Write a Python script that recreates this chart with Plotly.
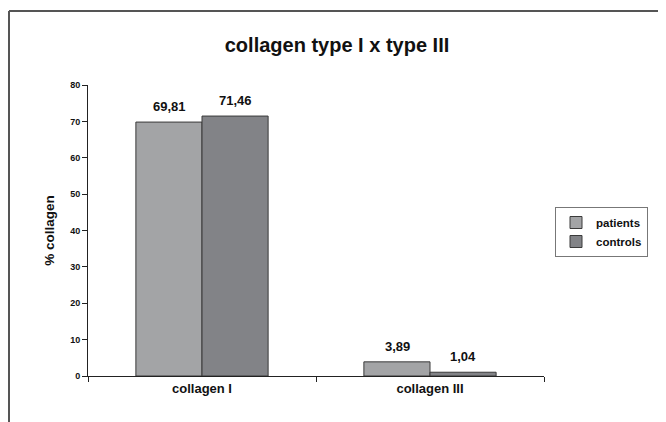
import plotly.graph_objects as go

categories = ["collagen I", "collagen III"]
patients = [69.81, 3.89]
controls = [71.46, 1.04]
series_names = ["patients", "controls"]
y_ticks = [0, 10, 20, 30, 40, 50, 60, 70, 80]

# page body has an 8px margin, so the figure is laid out 8px smaller/shifted
OFF = 8
W, H = 666 - OFF, 422 - OFF
L, R, T, B = 88 - OFF, 544 - OFF, 85 - OFF, 376 - OFF

FONT = "Liberation Sans, Arial"
BAR_HALF = 33  # half bar width in px, used to centre labels over grouped bars

def fmt(v):
    return "<b>" + f"{v:.2f}".replace(".", ",") + "</b>"

fig = go.Figure()
series = [(series_names[0], patients, "#a3a4a6", -BAR_HALF),
          (series_names[1], controls, "#828387", BAR_HALF)]
for name, vals, color, shift in series:
    fig.add_trace(go.Bar(
        x=categories, y=vals, name=name,
        marker=dict(color=color, line=dict(color="#3a3a3a", width=1)),
    ))
    for c, v in zip(categories, vals):
        fig.add_annotation(x=c, y=v, xref="x", yref="y", text=fmt(v),
                           showarrow=False, xanchor="center", yanchor="bottom",
                           xshift=shift, yshift=6,
                           font=dict(family=FONT, size=13, color="#111"))

def px_x(x):
    return (x - L) / (R - L)

def px_y(y):
    return (B - y) / (B - T)

fig.update_layout(
    width=W, height=H,
    margin=dict(l=L, r=W - R, t=T, b=H - B),
    paper_bgcolor="white", plot_bgcolor="white",
    barmode="group", bargap=0.42, bargroupgap=0,
    font=dict(family=FONT, color="#111"),
    title=dict(text="<b>collagen type I x type III</b>", x=0.5, xanchor="center",
               y=1 - (45 - OFF) / H, yanchor="middle",
               font=dict(size=20, family=FONT, color="#111")),
    xaxis=dict(showline=True, linecolor="#222", linewidth=1, ticks="outside",
               ticklen=5, tickcolor="#222", tickson="boundaries",
               tickfont=dict(size=13), showgrid=False,
               tickvals=categories, ticktext=[f"<b>{c}</b>" for c in categories]),
    yaxis=dict(range=[0, 80], tickvals=y_ticks,
               ticktext=[f"<b>{t}</b>" for t in y_ticks],
               showline=True, linecolor="#222", linewidth=1, ticks="outside",
               ticklen=5, tickcolor="#222", showgrid=False, zeroline=False,
               tickfont=dict(size=9),
               title=dict(text="<b>% collagen</b>", font=dict(size=13.5), standoff=12)),
    legend=dict(x=px_x(555 - OFF), y=px_y(207 - OFF), xanchor="left", yanchor="top",
                bordercolor="#777", borderwidth=1, bgcolor="white",
                font=dict(size=11.5, family=FONT, weight="bold"),
                itemwidth=30, tracegroupgap=0),
    showlegend=True,
)

# outer frame (left and top edges)
fig.add_shape(type="line", xref="paper", yref="paper",
              x0=px_x(9 - OFF), x1=px_x(9 - OFF), y0=px_y(11 - OFF), y1=px_y(H + 5),
              line=dict(color="#555", width=2))
fig.add_shape(type="line", xref="paper", yref="paper",
              x0=px_x(9 - OFF), x1=px_x(W + 5), y0=px_y(11 - OFF), y1=px_y(11 - OFF),
              line=dict(color="#555", width=2))

fig.write_html("out.html")
